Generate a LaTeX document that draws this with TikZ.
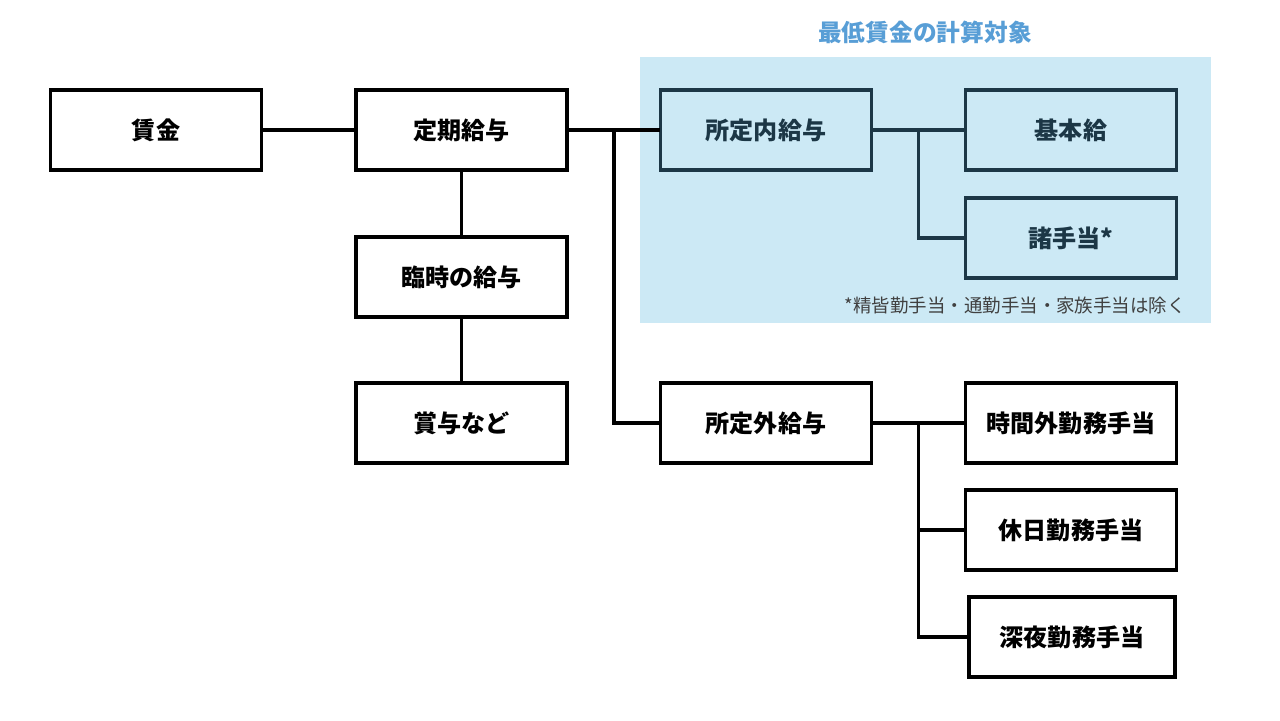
\documentclass[tikz,border=0pt]{standalone}
\usepackage{fontspec}
\setmainfont{Noto Sans CJK JP}
\usepackage{xcolor}
\usepackage{tikz}
\usetikzlibrary{calc}
\definecolor{target-bg}{RGB}{204,233,245}
\definecolor{target-title}{RGB}{88,158,214}
\definecolor{target-line}{RGB}{28,55,70}
\colorlet{note-text}{black!75}
\tikzset{
    item/.style = {draw, line width=2.2pt, minimum width=4.22cm, minimum height=1.6cm,
                   inner sep=0pt, font=\fontsize{13.7}{16}\selectfont\bfseries},
    target item/.style = {item, draw=target-line, text=target-line},
    link/.style = {line width=2pt, line cap=rect},
}

\begin{document}
\begin{tikzpicture}[line join=miter]
\useasboundingbox (0,0) rectangle (25.6,14.4);

\fill[target-bg] (12.8,7.94) rectangle (24.22,13.26);
\node[text=target-title, font=\fontsize{13.5}{16}\selectfont\bfseries] (title) at (18.5,13.76) {最低賃金の計算対象};
\node[anchor=east, inner sep=0pt, text=note-text, font=\fontsize{10.5}{12}\selectfont] (note) at (23.72,8.28) {*精皆勤手当・通勤手当・家族手当は除く};

\node[item] (chingin) at (3.12,11.8) {賃金};
\node[item] (teiki)   at (9.23,11.8) {定期給与};
\node[item] (rinji)   at (9.23,8.86) {臨時の給与};
\node[item] (shoyo)   at (9.23,5.94) {賞与など};

\node[target item] (naikyu) at (15.32,11.8) {所定内給与};
\node[target item] (kihon)  at (21.42,11.8) {基本給};
\node[target item] (shote)  at (21.42,9.64) {諸手当*};

\node[item] (gaikyu)   at (15.32,5.94) {所定外給与};
\node[item] (jikangai) at (21.42,5.94) {時間外勤務手当};
\node[item] (kyujitsu) at (21.42,3.8)  {休日勤務手当};
\node[item, minimum width=4.12cm] (shinya) at (21.44,1.66) {深夜勤務手当};

\coordinate (b1) at ($(teiki.east)!.5!(naikyu.west)$);
\coordinate (b2) at ($(naikyu.east)!.5!(kihon.west)$);
\coordinate (b3) at ($(gaikyu.east)!.5!(jikangai.west)$);

\draw[link] (chingin) -- (teiki);
\draw[link] (teiki) -- (rinji);
\draw[link] (rinji) -- (shoyo);
\draw[link] (teiki) -- (naikyu);
\draw[link] (b1) |- (gaikyu);

\draw[link, target-line] (naikyu) -- (kihon);
\draw[link, target-line] (b2) |- (shote);

\draw[link] (gaikyu) -- (jikangai);
\draw[link] (b3) |- (kyujitsu);
\draw[link] (b3) |- (shinya);
\end{tikzpicture}
\end{document}
